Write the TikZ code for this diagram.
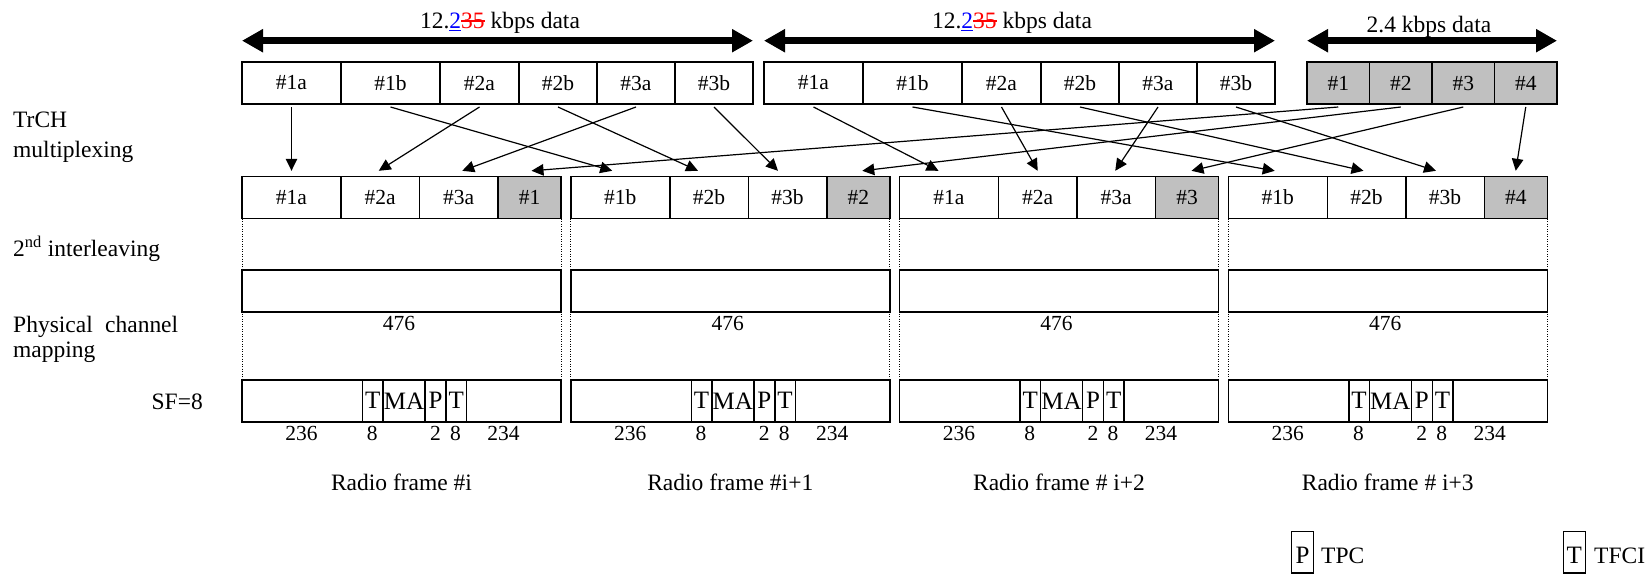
\documentclass[tikz,border=0pt]{standalone}
\usepackage{fontspec}
\setmainfont{Liberation Serif}
\usetikzlibrary{arrows.meta,positioning}
\definecolor{cellgrey}{RGB}{192,192,192}
\newsavebox\markbox
\newcommand\insdigit[1]{\textcolor{blue}{\sbox\markbox{#1}\usebox\markbox\llap{\rule[-0.13em]{\wd\markbox}{1.4pt}}}}
\newcommand\deldigits[1]{\textcolor{red}{\sbox\markbox{#1}\usebox\markbox\llap{\rule[0.27em]{\wd\markbox}{1.4pt}}}}
\begin{document}
\begin{tikzpicture}[x=1pt,y=-1pt,
	big/.style={inner sep=0pt,font=\fontsize{23.5}{27}\selectfont},
	small/.style={inner sep=0pt,font=\fontsize{21.5}{25}\selectfont},
	cell/.style={draw,line width=1.5pt,inner sep=0pt,outer sep=0pt,minimum height=42pt,small},
	grey/.style={cell,fill=cellgrey},
	sfcell/.style={cell,font=\fontsize{25}{28}\selectfont},
	key/.style={draw,line width=1.5pt,inner sep=0pt,minimum width=22pt,text height=32.3pt,text depth=9pt,font=\fontsize{25}{28}\selectfont,anchor=north west},
	conn/.style={line width=1.2pt,-{Triangle[length=12pt,width=11.5pt]}},
	rate/.style={line width=7pt,{Triangle[length=21pt,width=22pt]}-{Triangle[length=21pt,width=22pt]}},
	guide/.style={line width=1pt,dash pattern=on 1pt off 1.5pt}]
	\useasboundingbox(0,0)rectangle(1647,574);
	\node[cell,minimum width=99pt,anchor=west](a1a)at(242,83){\#1a};
	\node[cell,minimum width=99pt,right=0pt of a1a](a1b){\#1b};
	\node[cell,minimum width=79pt,right=0pt of a1b](a2a){\#2a};
	\node[cell,minimum width=78pt,right=0pt of a2a](a2b){\#2b};
	\node[cell,minimum width=78pt,right=0pt of a2b](a3a){\#3a};
	\node[cell,minimum width=78pt,right=0pt of a3a](a3b){\#3b};
	\node[cell,minimum width=99pt,anchor=west](b1a)at(764,83){\#1a};
	\node[cell,minimum width=99pt,right=0pt of b1a](b1b){\#1b};
	\node[cell,minimum width=79pt,right=0pt of b1b](b2a){\#2a};
	\node[cell,minimum width=78pt,right=0pt of b2a](b2b){\#2b};
	\node[cell,minimum width=78pt,right=0pt of b2b](b3a){\#3a};
	\node[cell,minimum width=78pt,right=0pt of b3a](b3b){\#3b};
	\node[grey,minimum width=62.5pt,anchor=west](c1)at(1307,83){\#1};
	\node[grey,minimum width=62.5pt,right=0pt of c1](c2){\#2};
	\node[grey,minimum width=62.5pt,right=0pt of c2](c3){\#3};
	\node[grey,minimum width=62.5pt,right=0pt of c3](c4){\#4};
	\draw[rate]([yshift=21.3pt]a1a.north west)--([yshift=21.3pt]a3b.north east);
	\draw[rate]([yshift=21.3pt]b1a.north west)--([yshift=21.3pt]b3b.north east);
	\draw[rate]([yshift=21.3pt]c1.north west)--([yshift=21.3pt]c4.north east);
	\node[big,anchor=base](ratea)at(500,28){12.\insdigit{2}\deldigits{35} kbps data};
	\node[big,anchor=base](rateb)at(1012,28){12.\insdigit{2}\deldigits{35} kbps data};
	\node[big,anchor=base](ratec)at(1429,32){2.4 kbps data};
	\node[big,anchor=base west](trch)at(13,127){TrCH};
	\node[big,anchor=base west](mux)at(13,157.5){multiplexing};
	\node[big,anchor=base west](inter)at(13,256.7){2\textsuperscript{nd} interleaving};
	\node[big,anchor=base west](phy)at(13,332){\makebox[165pt][s]{Physical channel}};
	\node[big,anchor=base west](map)at(13,357){mapping};
	\node[big,anchor=east](sf)at(203,401.7){SF=8};
	\foreach \i/\s/\r in {1/a/{\#i},2/b/{\#i+1},3/a/{\# i+2},4/b/{\# i+3}}{
		\pgfmathsetmacro\x{242+(\i-1)*328.75}
		\node[cell,minimum width=99pt,anchor=west](r\i-1)at(\x,197.5){\#1\s};
		\node[cell,minimum width=78.5pt,right=0pt of r\i-1](r\i-2){\#2\s};
		\node[cell,minimum width=78.5pt,right=0pt of r\i-2](r\i-3){\#3\s};
		\node[grey,minimum width=63pt,right=0pt of r\i-3](r\i-4){\#\i};
		\draw[guide](r\i-1.south west)--(\x,380);
		\draw[guide](r\i-4.south east)--(\x+319,380);
		\node[cell,minimum width=319pt,anchor=west](il\i)at(\x,291.2){};
		\node[cell,minimum width=319pt,anchor=west](sf\i)at(\x,400.8){};
		\node[sfcell,minimum width=20.5pt,anchor=west](tf\i)at(\x+120.5,400.8){T};
		\node[sfcell,minimum width=42pt,right=0pt of tf\i](ma\i){MA};
		\node[sfcell,minimum width=21pt,right=0pt of ma\i](tp\i){P};
		\node[sfcell,minimum width=20.5pt,right=0pt of tp\i](tg\i){T};
		\node[small,anchor=base](bits\i)at(\x+157,330){476};
		\node[small,anchor=base](da\i)at(\x+59.5,440){236};
		\node[small,anchor=base](nt\i)at(\x+130.3,440){8};
		\node[small,anchor=base](np\i)at(\x+193.4,440){2};
		\node[small,anchor=base](ng\i)at(\x+213.5,440){8};
		\node[small,anchor=base](db\i)at(\x+261.5,440){234};
		\node[big,anchor=base](frame\i)at(\x+159.5,490){Radio frame \r};
	}
	\foreach \s/\t/\d in {a1a/r1-1/0,a1b/r2-1/-8,a2a/r1-2/-1.5,a2b/r2-2/-11,a3a/r1-3/3.5,a3b/r2-3/-9.5,
		b1a/r3-1/-10.5,b1b/r4-1/-3,b2a/r3-2/0,b2b/r4-2/-3,b3a/r3-3/-1,b3b/r4-3/-9,
		c1/r1-4/2,c2/r2-4/4,c3/r3-4/4.5,c4/r4-4/0}
		\draw[conn]([yshift=-3pt]\s.south)--([xshift=\d pt,yshift=5.7pt]\t.north);
	\node[key](keyp)at(1290.7,530.7){P};
	\node[big,anchor=base west](tpc)at(1321,563){TPC};
	\node[key](keyt)at(1562.5,530.7){T};
	\node[big,anchor=base west](tfci)at(1594,563){TFCI};
\end{tikzpicture}
\end{document}
